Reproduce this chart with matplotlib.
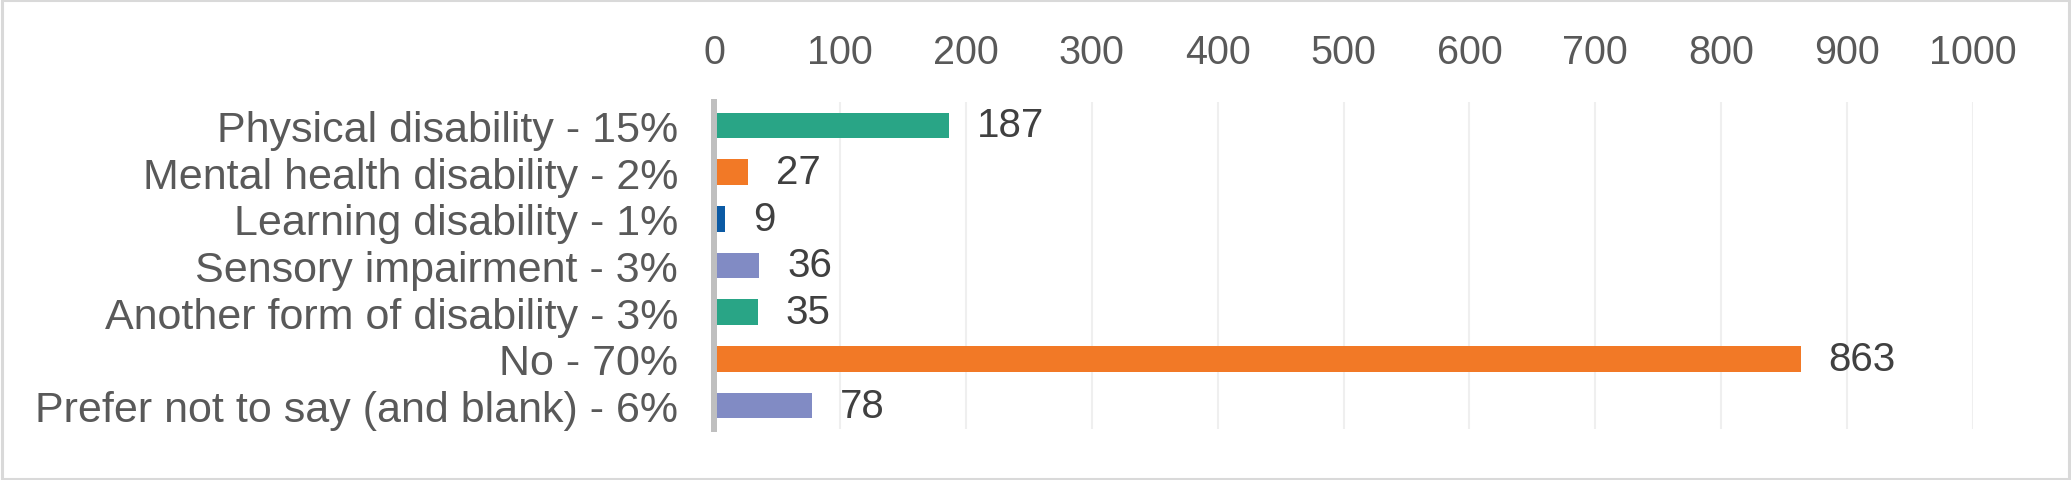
import matplotlib.pyplot as plt
from matplotlib.patches import Rectangle

categories = [
    "Physical disability - 15%",
    "Mental health disability - 2%",
    "Learning disability - 1%",
    "Sensory impairment - 3%",
    "Another form of disability - 3%",
    "No - 70%",
    "Prefer not to say (and blank) - 6%",
]
counts = [187, 27, 9, 36, 35, 863, 78]
bar_colors = ["#29A586", "#F27926", "#0B5AA4", "#818BC4",
              "#29A586", "#F27926", "#818BC4"]
x_ticks = [0, 100, 200, 300, 400, 500, 600, 700, 800, 900, 1000]

plt.rcParams['font.family'] = ['Liberation Sans', 'DejaVu Sans']

fig = plt.figure(figsize=(20.71, 4.81), dpi=100)
ax = fig.add_axes([714 / 2071, 1 - 430 / 481, 1259 / 2071, 327 / 481])

pos = list(range(len(categories)))
ax.barh(pos, counts, height=0.55, color=bar_colors, zorder=3)

# value labels just right of each bar
for p, v in zip(pos, counts):
    ax.annotate(str(v), xy=(v, p), xytext=(20, 0), textcoords='offset points',
                va='center', ha='left', fontsize=29, color='#404040')

ax.set_xlim(0, 1000)
ax.set_ylim(len(categories) - 0.5, -0.5)
ax.set_xticks(x_ticks)
ax.set_yticks(pos)
ax.set_yticklabels(categories)
ax.xaxis.tick_top()
ax.tick_params(axis='x', length=0, pad=22.5, labelsize=28.5, labelcolor='#595959')
ax.tick_params(axis='y', length=0, pad=26, labelsize=31, labelcolor='#595959')

ax.grid(axis='x', color='#EFEFEF', linewidth=1.5, zorder=0)
for s in ['top', 'right', 'bottom']:
    ax.spines[s].set_visible(False)
ax.spines['left'].set_color('#BFBFBF')
ax.spines['left'].set_linewidth(4.3)
ax.spines['left'].set_zorder(4)

fig.patches.append(Rectangle((0.001, 0.003), 0.998, 0.994, transform=fig.transFigure,
                             fill=False, edgecolor='#D9D9D9', linewidth=2.2))

fig.savefig('out.png', dpi=100)
